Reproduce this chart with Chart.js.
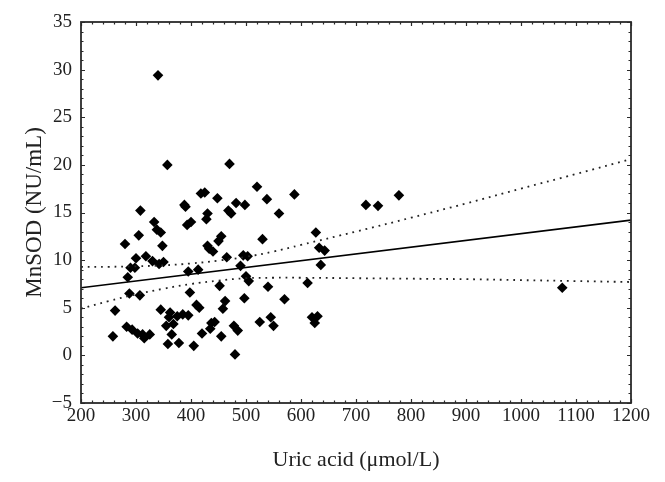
<!DOCTYPE html>
<html>
<head>
<meta charset="utf-8">
<script src="https://cdn.jsdelivr.net/npm/chart.js@4.4.0/dist/chart.umd.min.js"></script>
<style>
    html, body { margin: 0; padding: 0; background: #fff; }
    #wrap { width: 665px; height: 482px; }
</style>
</head>
<body>
<div id="wrap"><canvas id="scatterChart" width="665" height="482"></canvas></div>
<script>
// Uric acid (umol/L) vs MnSOD (NU/mL)
const uricAcid = [258, 262, 280, 283, 285, 288, 290, 293, 298, 300, 303, 305, 307, 308, 312, 315, 318, 325, 330, 333,
    338, 340, 342, 345, 345, 348, 350, 355, 357, 358, 360, 362, 365, 368, 375, 378, 385, 388, 390, 393,
    395, 395, 398, 400, 405, 410, 413, 415, 418, 420, 425, 428, 430, 430, 433, 435, 437, 440, 443, 448,
    450, 452, 455, 455, 458, 462, 465, 468, 470, 473, 478, 480, 482, 485, 490, 495, 497, 498, 500, 503,
    505, 520, 525, 530, 538, 540, 545, 550, 560, 570, 588, 612, 620, 625, 627, 630, 633, 636, 643, 718,
    740, 778, 1075];
const mnsod = [2.0, 4.7, 11.7, 3.0, 8.2, 6.5, 9.2, 2.7, 9.2, 10.2, 2.3, 12.6, 6.3, 15.2, 2.2, 1.8, 10.4, 2.2, 9.9, 14.0,
    13.2, 29.4, 9.6, 12.9, 4.8, 11.5, 9.8, 3.1, 20.0, 1.2, 4.0, 4.5, 2.2, 3.3, 4.1, 1.3, 4.3, 15.8, 15.6, 13.7,
    4.2, 8.8, 6.6, 14.0, 1.0, 5.3, 9.0, 5.0, 17.0, 2.3, 17.1, 14.3, 14.9, 11.5, 11.2, 2.8, 3.4, 10.9, 3.5, 16.5,
    12.0, 7.3, 12.5, 2.0, 4.9, 5.7, 10.3, 15.2, 20.1, 14.9, 3.1, 0.1, 16.0, 2.6, 9.4, 10.5, 6.0, 15.8, 8.3, 10.4,
    7.8, 17.7, 3.5, 12.2, 16.4, 7.2, 4.0, 3.1, 14.9, 5.9, 16.9, 7.6, 4.0, 3.4, 12.9, 4.1, 11.3, 9.5, 11.0, 15.8,
    15.7, 16.8, 7.1];

// fitted line and 95% confidence band
const fitX = [200, 1200];
const fitY = [7.1, 14.2];
const bandX = [200, 250, 300, 350, 400, 450, 500, 550, 600, 700, 800, 900, 1000, 1100, 1200];
const upperBand = [9.3, 9.3, 9.35, 9.45, 9.65, 9.95, 10.35, 10.9, 11.6, 13.0, 14.45, 15.95, 17.5, 19.05, 20.6];
const lowerBand = [4.9, 5.7, 6.4, 7.0, 7.5, 7.85, 8.1, 8.15, 8.15, 8.1, 8.05, 8.0, 7.9, 7.8, 7.7];

const xTicks = [200, 300, 400, 500, 600, 700, 800, 900, 1000, 1100, 1200];
const yTicks = [-5, 0, 5, 10, 15, 20, 25, 30, 35];

function toPoints(xs, ys) {
    return xs.map(function (x, i) { return { x: x, y: ys[i] }; });
}

// box round the plot with small inward ticks on all four sides
const frameTicks = {
    id: 'frameTicks',
    afterDraw: function (chart) {
        const ctx = chart.ctx;
        const a = chart.chartArea;
        const xs = chart.scales.x;
        const ys = chart.scales.y;
        ctx.save();
        ctx.strokeStyle = '#2a2a2a';
        ctx.lineWidth = 1.2;
        ctx.beginPath();
        for (let v = 200; v <= 1200; v += 20) {
            const px = Math.round(xs.getPixelForValue(v)) + 0.5;
            const len = v % 100 === 0 ? 4 : 2.5;
            ctx.moveTo(px, a.bottom); ctx.lineTo(px, a.bottom - len);
            ctx.moveTo(px, a.top); ctx.lineTo(px, a.top + len);
        }
        for (let v = -5; v <= 35; v += 1) {
            const py = Math.round(ys.getPixelForValue(v)) + 0.5;
            const len = v % 5 === 0 ? 4 : 2.5;
            ctx.moveTo(a.left, py); ctx.lineTo(a.left + len, py);
            ctx.moveTo(a.right, py); ctx.lineTo(a.right - len, py);
        }
        ctx.stroke();
        ctx.lineWidth = 1.8;
        ctx.strokeRect(a.left, a.top, a.right - a.left, a.bottom - a.top);
        ctx.restore();
    }
};

const serif = "'Liberation Serif', 'DejaVu Serif', serif";
const tickFont = { family: serif, size: 19 };
const titleFont = { family: serif, size: 22 };

const ctx = document.getElementById('scatterChart').getContext('2d');
const chart = new Chart(ctx, {
    type: 'scatter',
    data: {
        datasets: [{
            label: 'upper',
            type: 'line',
            data: toPoints(bandX, upperBand),
            borderColor: '#222',
            borderWidth: 1.8,
            borderDash: [1.8, 4.9],
            pointRadius: 0,
            tension: 0.4,
            fill: false
        }, {
            label: 'lower',
            type: 'line',
            data: toPoints(bandX, lowerBand),
            borderColor: '#222',
            borderWidth: 1.8,
            borderDash: [1.8, 4.9],
            pointRadius: 0,
            tension: 0.4,
            fill: false
        }, {
            label: 'fit',
            type: 'line',
            data: toPoints(fitX, fitY),
            borderColor: '#000',
            borderWidth: 1.6,
            pointRadius: 0,
            fill: false
        }, {
            label: 'MnSOD',
            data: toPoints(uricAcid, mnsod),
            pointStyle: 'rectRot',
            pointRadius: 5.3,
            pointHoverRadius: 5.3,
            backgroundColor: '#000',
            borderColor: '#000',
            borderWidth: 0
        }]
    },
    options: {
        responsive: false,
        animation: false,
        devicePixelRatio: 1,
        layout: {
            padding: { left: 0, right: 34, top: 22, bottom: 0 }
        },
        plugins: {
            legend: { display: false },
            tooltip: { enabled: false }
        },
        scales: {
            x: {
                type: 'linear',
                min: 200,
                max: 1200,
                afterBuildTicks: function (scale) {
                    scale.ticks = xTicks.map(function (v) { return { value: v }; });
                },
                afterFit: function (scale) { scale.height = 79; },
                grid: { display: false, drawTicks: false },
                border: { display: false },
                ticks: {
                    color: '#222',
                    font: tickFont,
                    padding: 2,
                    maxRotation: 0,
                    autoSkip: false,
                    callback: function (v) { return String(v); }
                },
                title: {
                    display: true,
                    text: 'Uric acid (\u03bcmol/L)',
                    color: '#222',
                    font: titleFont,
                    padding: { top: 0, bottom: 9 }
                }
            },
            y: {
                type: 'linear',
                min: -5,
                max: 35,
                afterBuildTicks: function (scale) {
                    scale.ticks = yTicks.map(function (v) { return { value: v }; });
                },
                afterFit: function (scale) { scale.width = 81; },
                grid: { display: false, drawTicks: false },
                border: { display: false },
                ticks: {
                    color: '#222',
                    font: tickFont,
                    padding: 9,
                    callback: function (v) { return String(v).replace('-', '\u2212'); }
                },
                title: {
                    display: true,
                    text: 'MnSOD (NU/mL)',
                    color: '#222',
                    font: { family: serif, size: 23 },
                    padding: { top: 21, bottom: 0 }
                }
            }
        }
    },
    plugins: [frameTicks]
});
</script>
</body>
</html>
